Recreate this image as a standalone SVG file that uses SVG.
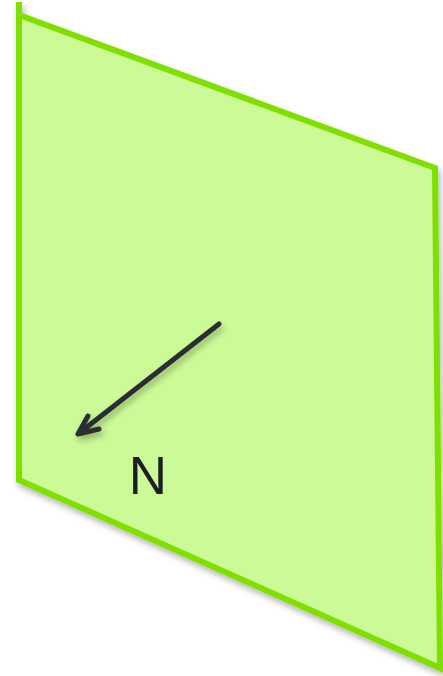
<svg xmlns="http://www.w3.org/2000/svg" width="443" height="676" viewBox="0 0 443 676">
<defs>
<style>
.plane{fill:#ccfa96;stroke:#7fe000;stroke-width:6;stroke-linejoin:miter}
.edge{stroke:#7fe000;stroke-width:6;fill:none}
.arrow{stroke:#2a2e33;stroke-width:5;fill:none;stroke-linecap:round;stroke-linejoin:round}
.lbl{font-family:"Liberation Sans",Arial,sans-serif;font-size:53px;fill:#1c2024}
</style>
<filter id="sh" x="-10%" y="-10%" width="120%" height="120%">
<feGaussianBlur in="SourceAlpha" stdDeviation="3"/>
<feOffset dx="2" dy="4"/>
<feComponentTransfer><feFuncA type="linear" slope="0.3"/></feComponentTransfer>
<feMerge><feMergeNode/><feMergeNode in="SourceGraphic"/></feMerge>
</filter>
</defs>
<g id="plane" filter="url(#sh)">
<polygon class="plane" points="19,15 435,168 440,668 19,480"/>
<line class="edge" x1="19" y1="2" x2="19" y2="16"/>
</g>
<g id="connectors" filter="url(#sh)">
<path class="arrow" d="M219,324 L78,434 M88,416 L78,434 L99,429"/>
</g>
<g id="label">
<text class="lbl" x="148" y="494" text-anchor="middle">N</text>
</g>
</svg>
